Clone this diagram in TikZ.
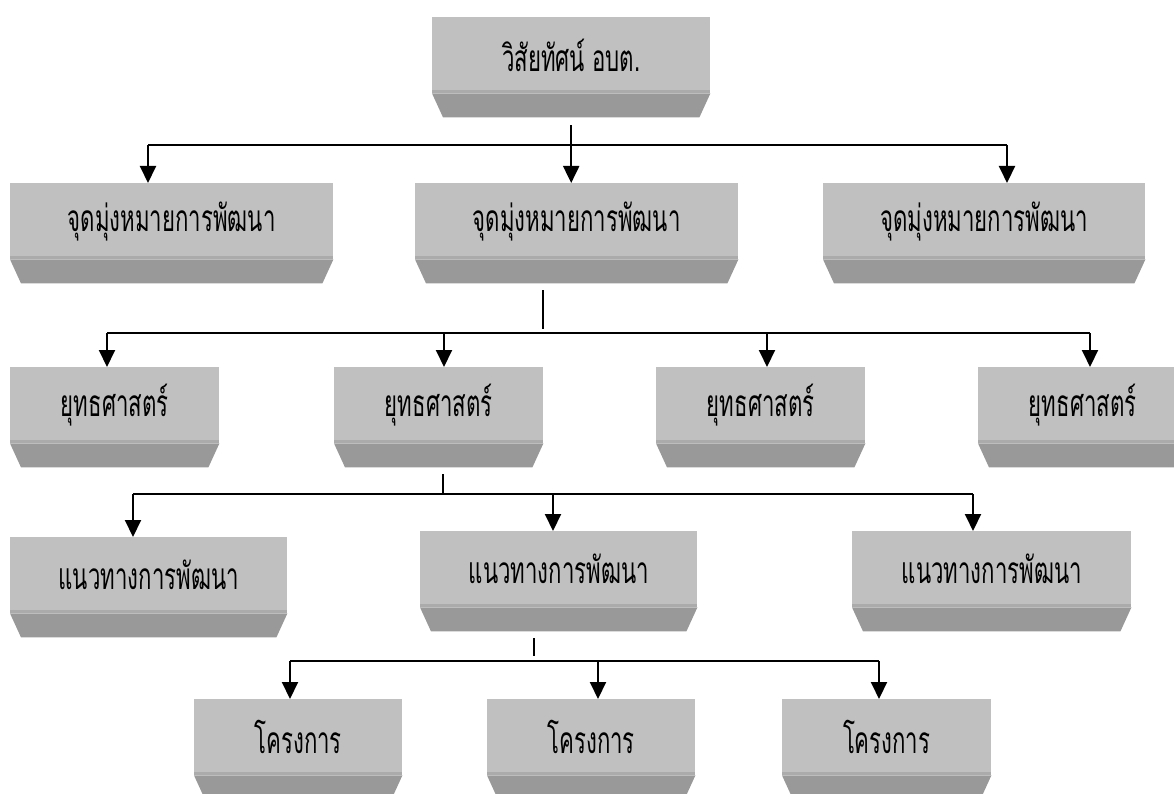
\documentclass[tikz,border=0pt]{standalone}
\usepackage{fontspec}
\newfontfamily\thaifont[Script=Thai, FakeStretch=0.6]{Loma}
\usepackage{tikz}
\usetikzlibrary{
    arrows.meta       % For the filled triangle arrow tips
}

\definecolor{facegray}{HTML}{C0C0C0}
\definecolor{edgegray}{HTML}{ABABAB}
\definecolor{bevelgray}{HTML}{999999}

\begin{document}
\begin{tikzpicture}[
    x=1pt, y=-1pt,
    % Style for the light front face of every box
    face_style/.style={
        fill=facegray,
        anchor=north west,
        inner sep=0pt,
        minimum height=76pt,
        font=\thaifont\fontsize{37}{40}\selectfont
    },
    % Style for the darker slanted lower part
    bevel_style/.style={
        fill=bevelgray
    },
    % Style for plain connector lines
    line_style/.style={
        line width=2pt,
        black
    },
    % Style for arrowheads
    arrow_tip/.style={
        line_style,
        -{Triangle[length=17pt, width=16pt]}
    }
]
    \clip (0,0) rectangle (1174,794);

    % 1. The boxes, row by row.
    \node[face_style, minimum width=278pt] (vision) at (432,17) {วิสัยทัศน์ อบต.};

    \node[face_style, minimum width=323pt] (goal1) at (10,183) {จุดมุ่งหมายการพัฒนา};
    \node[face_style, minimum width=323pt] (goal2) at (415,183) {จุดมุ่งหมายการพัฒนา};
    \node[face_style, minimum width=322pt] (goal3) at (823,183) {จุดมุ่งหมายการพัฒนา};

    \node[face_style, minimum width=209pt] (strat1) at (10,367) {ยุทธศาสตร์};
    \node[face_style, minimum width=209pt] (strat2) at (334,367) {ยุทธศาสตร์};
    \node[face_style, minimum width=209pt] (strat3) at (656,367) {ยุทธศาสตร์};
    \node[face_style, minimum width=209pt] (strat4) at (978,367) {ยุทธศาสตร์};

    \node[face_style, minimum width=277pt] (way1) at (10,537) {แนวทางการพัฒนา};
    \node[face_style, minimum width=277pt] (way2) at (420,531) {แนวทางการพัฒนา};
    \node[face_style, minimum width=279pt] (way3) at (852,531) {แนวทางการพัฒนา};

    \node[face_style, minimum width=208pt] (proj1) at (194,699) {โครงการ};
    \node[face_style, minimum width=208pt] (proj2) at (487,699) {โครงการ};
    \node[face_style, minimum width=209pt] (proj3) at (782,699) {โครงการ};

    % 2. The slanted lower part under each box.
    \foreach \b in {vision,goal1,goal2,goal3,strat1,strat2,strat3,strat4,
                    way1,way2,way3,proj1,proj2,proj3} {
        \fill[bevel_style] (\b.south west) -- (\b.south east)
            -- ([xshift=-11pt, yshift=-24pt]\b.south east)
            -- ([xshift=11pt, yshift=-24pt]\b.south west) -- cycle;
        \fill[edgegray] (\b.south west) rectangle ([yshift=3pt]\b.south east);
    }

    % 3. Vision to the goals.
    \coordinate (vision_out) at ([yshift=-32pt]vision.south);
    \coordinate (bus1_left) at (148,145);
    \coordinate (bus1_right) at (1007,145);
    \draw[line_style] (bus1_left) -- (bus1_right);
    \draw[arrow_tip] (vision_out) -- (vision_out |- goal2.north);
    \draw[arrow_tip] (bus1_left) -- (bus1_left |- goal1.north);
    \draw[arrow_tip] (bus1_right) -- (bus1_right |- goal3.north);

    % 4. Goals to the strategies.
    \coordinate (goal_out) at (543,290);
    \coordinate (goal_end) at (543,329);
    \draw[line_style] (goal_out) -- (goal_end);
    \coordinate (bus2_left) at (107,333);
    \coordinate (bus2_right) at (1090,333);
    \draw[line_style] (bus2_left) -- (bus2_right);
    \draw[arrow_tip] (bus2_left) -- (bus2_left |- strat1.north);
    \draw[arrow_tip] (444,333) -- (444,0 |- strat2.north);
    \draw[arrow_tip] (767,333) -- (767,0 |- strat3.north);
    \draw[arrow_tip] (bus2_right) -- (bus2_right |- strat4.north);

    % 5. Strategy to the guidelines.
    \coordinate (strat_out) at (443,474);
    \coordinate (bus3_left) at (133,494);
    \coordinate (bus3_right) at (973,494);
    \draw[line_style] (strat_out) -- (strat_out |- bus3_left);
    \draw[line_style] (bus3_left) -- (bus3_right);
    \draw[arrow_tip] (bus3_left) -- (bus3_left |- way1.north);
    \draw[arrow_tip] (553,494) -- (553,0 |- way2.north);
    \draw[arrow_tip] (bus3_right) -- (bus3_right |- way3.north);

    % 6. Guideline to the projects.
    \coordinate (way_out) at (534,638);
    \coordinate (way_end) at (534,656);
    \draw[line_style] (way_out) -- (way_end);
    \coordinate (bus4_left) at (290,661);
    \coordinate (bus4_right) at (879,661);
    \draw[line_style] (bus4_left) -- (bus4_right);
    \draw[arrow_tip] (bus4_left) -- (bus4_left |- proj1.north);
    \draw[arrow_tip] (598,661) -- (598,0 |- proj2.north);
    \draw[arrow_tip] (bus4_right) -- (bus4_right |- proj3.north);

\end{tikzpicture}
\end{document}
